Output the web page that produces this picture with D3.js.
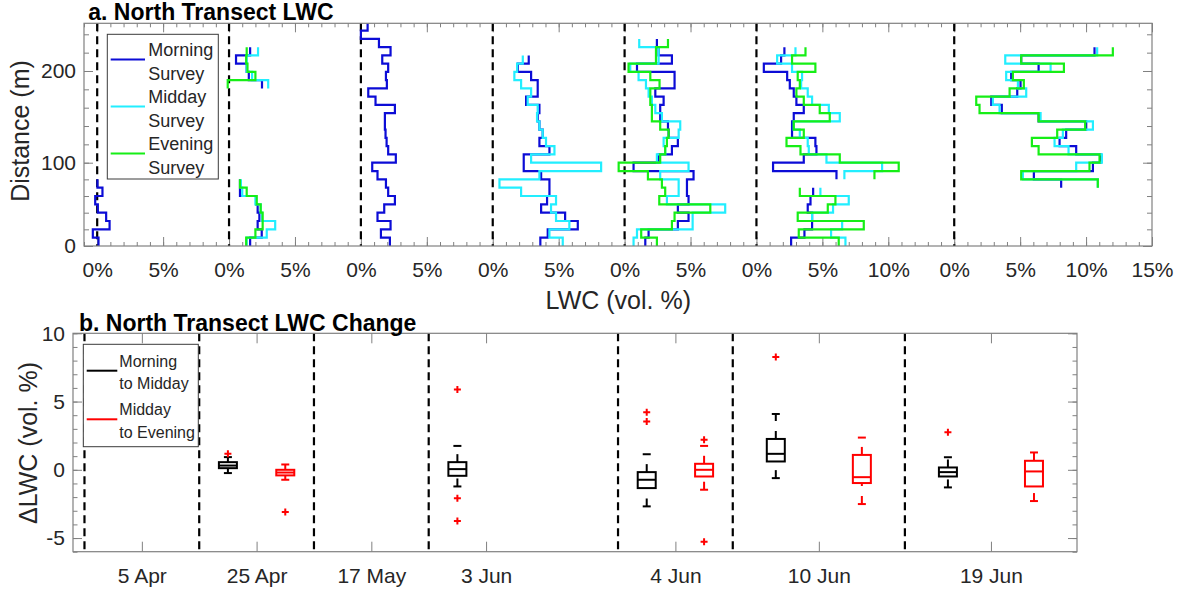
<!DOCTYPE html>
<html>
<head>
<meta charset="utf-8">
<script src="https://cdn.jsdelivr.net/npm/d3@7"></script>
<style>
  body { margin: 0; background: #fff; }
  svg { font-family: "Liberation Sans", Arial, Helvetica, sans-serif; }
</style>
</head>
<body>
<svg id="chart"></svg>
<script>
// ---------- data ----------
var surveyDates = ['5 Apr', '25 Apr', '17 May', '3 Jun', '4 Jun', '10 Jun', '19 Jun'];
var surveyNames = ['Morning', 'Midday', 'Evening'];

// panel a: every date gets its own 0% line on one shared x axis
var dateOffsets = [0, 10, 20, 30, 40, 50, 65];
var lwcTicks = [0, 5, 10, 15, 20, 25, 30, 35, 40, 45, 50, 55, 60, 65, 70, 75, 80];
var lwcTickLabels = ['0%', '5%', '0%', '5%', '0%', '5%', '0%', '5%', '0%', '5%', '0%', '5%', '10%', '0%', '5%', '10%', '15%'];
var distTicks = [0, 20, 40, 60, 80, 100, 120, 140, 160, 180, 200, 220, 240];

// distance bins (m), values below are LWC (vol. %) for each bin, bottom to top
var binEdges = [0, 10, 20, 30, 40, 50, 60, 70, 80, 90, 100, 109, 118, 127, 136, 145, 154, 163, 172, 181, 190, 199, 208, 217, 226, 235, 244, 253];
var N = null;

var morningLWC = [
  [0.10, -0.33, 0.94, 0.68, 0.05, -0.15, 0.40, 0.02, N,
   N, N, N, N, N, N, N, N, N,
   N, N, N, N, N, N, N, N, N],
  [1.60, 2.48, 2.17, 2.30, 2.17, 2.05, 0.83, 0.83, N,
   N, N, N, N, N, N, N, N, N,
   N, 2.50, 1.50, 1.34, 0.53, 1.60, N, N, N],
  [2.20, 1.52, 2.25, 1.26, 1.77, 2.58, 2.07, 1.90, 1.26,
   0.86, 2.65, 2.07, 1.95, 1.87, 1.82, 1.82, 2.58, 1.11,
   0.56, 1.97, 1.90, 2.07, 1.62, 2.25, 1.37, 0.00, 0.51],
  [3.61, 4.17, 6.45, 5.49, 3.67, 4.12, 4.30, 4.30, 3.67,
   2.35, 2.35, 4.30, 3.54, 3.79, 3.54, 3.41, 3.54, 2.53,
   3.41, 3.41, 2.91, 1.90, 2.73, N, N, N, N],
  [1.57, 1.82, 4.04, 4.85, 4.04, 4.85, 4.73, 4.73, 5.23,
   0.68, 2.58, 3.59, 4.04, 3.34, 3.29, 2.70, 2.70, 2.96,
   2.33, 3.79, 3.79, 0.94, 3.59, 2.58, 2.45, N, N],
  [2.63, 3.64, 4.22, 4.22, 3.89, 4.10, 4.30, N, 6.07,
   1.26, 3.59, 4.55, 4.47, 2.70, 2.70, 2.83, 3.59, 3.03,
   2.83, 2.53, 2.33, 0.56, 1.87, 2.12, N, N, N],
  [N, N, N, N, N, N, N, 8.11, 6.04,
   10.52, 11.10, 9.25, 7.99, 8.49, 10.01, 6.40, 3.61, 2.81,
   4.78, 5.03, 4.32, 6.40, 5.08, 10.64, N, N, N]
];

var middayLWC = [
  null,
  [1.34, 2.86, 3.50, 2.50, 2.40, 2.00, 1.00, 0.90, N,
   N, N, N, N, N, N, N, N, N,
   N, 2.97, 1.75, 1.34, 1.34, 2.20, N, N, N],
  null,
  [5.31, 4.30, 5.81, 4.80, 4.42, 4.80, 2.15, 0.51, 3.54,
   8.22, 2.91, 4.68, 4.04, 3.79, 3.54, 3.36, 3.41, 2.65,
   2.91, 2.15, 1.64, 1.85, 2.28, N, N, N, N],
  [0.68, 0.94, 5.16, 5.16, 7.63, 3.21, 4.10, 4.10, 2.70,
   4.85, 2.45, 3.08, 2.96, 4.10, 4.22, 2.83, 2.33, 2.07,
   1.82, 1.62, 1.06, 0.43, 2.58, 2.58, 1.11, N, N],
  [6.75, 5.66, 6.50, 4.22, 5.81, 7.00, 4.85, N, 6.67,
   9.53, 5.31, 3.97, 3.89, 3.29, 2.83, 6.32, 5.49, 4.22,
   3.89, 3.39, 3.46, 2.70, 1.57, 2.96, N, N, N],
  [N, N, N, N, N, N, N, 10.89, 5.21,
   9.25, 11.20, 8.67, 7.61, 8.24, 10.52, 6.55, 3.44, 2.93,
   5.46, 4.83, 3.94, 7.31, 3.87, 10.84, N, N, N]
];

var eveningLWC = [
  null,
  [1.30, 2.00, 2.55, 2.55, 2.40, 2.10, 1.34, 0.83, N,
   N, N, N, N, N, N, N, N, N,
   N, -0.10, 2.00, 1.40, 1.30, 1.34, N, N, N],
  null,
  null,
  [2.45, 1.26, 3.59, 3.79, 6.50, 2.63, 3.08, 2.83, 1.77,
   -0.45, 2.70, 3.08, 3.21, 3.34, 2.70, 2.07, 2.07, 1.95,
   1.95, 2.65, 1.95, 0.30, 2.38, 2.38, 3.29, N, N],
  [6.24, 3.21, 8.14, 3.13, 5.41, 5.99, 3.29, N, 8.95,
   10.79, 6.32, 3.34, 2.28, 3.59, 2.83, 5.56, 4.80, 3.59,
   3.03, 3.29, 3.13, 4.47, 2.70, 3.72, N, N, N],
  [N, N, N, N, N, N, N, 10.89, 5.08,
   10.26, 11.02, 6.40, 5.89, 7.81, 9.93, 6.40, 1.92, 1.67,
   4.20, 5.28, 4.45, 8.32, 5.08, 12.03, N, N, N]
];

// panel b: positions on the date axis
var changeTicks = [2.4, 6.4, 10.4, 14.4, 21, 26, 32];
var changeDividers = [0.4, 4.4, 8.4, 12.4, 19, 23, 29];
var changeYTicks = [-6, -5, -4, -3, -2, -1, 0, 1, 2, 3, 4, 5, 6, 7, 8, 9, 10];

// morning -> midday boxes (25 Apr, 3 Jun, 4 Jun, 10 Jun, 19 Jun)
var m2mPos = [5.4, 13.4, 20, 24.5, 30.5];
var m2mLow = [-0.24, -1.22, -2.68, -0.61, -1.29];
var m2mQ1 = [0.12, -0.44, -1.34, 0.61, -0.49];
var m2mMed = [0.31, 0.05, -0.73, 1.17, -0.17];
var m2mQ3 = [0.56, 0.56, -0.17, 2.26, 0.17];
var m2mHigh = [0.93, 1.75, 1.14, 4.09, 0.92];
var m2mOut = [[1.17], [5.89, -2.09, -3.75], [4.21, 3.53], [8.27], [2.75]];

// midday -> evening boxes (25 Apr, 4 Jun, 10 Jun, 19 Jun)
var m2ePos = [7.4, 22, 27.5, 33.5];
var m2eLow = [-0.73, -1.46, -2.51, -2.29];
var m2eQ1 = [-0.41, -0.49, -0.97, -1.22];
var m2eMed = [-0.20, 0.00, -0.54, -0.12];
var m2eQ3 = [0.00, 0.44, 1.09, 0.66];
var m2eHigh = [0.39, 1.75, 2.36, 1.27];
var m2eOut = [[-3.09], [2.20, -5.28], [], []];

// ---------- drawing ----------
var axisColor = '#808080';
var textColor = '#262626';
var surveyColors = ['#0c0cd6', '#22eeff', '#16ee16'];

var svg = d3.select('#chart').attr('width', 1182).attr('height', 596);

var boxA = {left: 84, right: 1152, top: 23.3, bottom: 246};
var boxB = {left: 73, right: 1077, top: 333.3, bottom: 551.7};

var xA = d3.scaleLinear().domain([-1, 80]).range([boxA.left, boxA.right]);
var yA = d3.scaleLinear().domain([0, 100, 252]).range([boxA.bottom, 162.7, boxA.top]);
var xB = d3.scaleLinear().domain([0, 35]).range([boxB.left, boxB.right]);
var yB = d3.scaleLinear().domain([-6, 10]).range([boxB.bottom, boxB.top]);

function addAxis(axis, tx, ty, size) {
  var g = svg.append('g')
    .attr('transform', 'translate(' + tx + ',' + ty + ')')
    .call(axis);
  g.select('.domain').remove();
  g.attr('font-family', null).attr('font-size', size || 21);
  g.selectAll('.tick line').attr('stroke', axisColor);
  g.selectAll('.tick text').attr('fill', textColor);
  return g;
}

function drawBox(b) {
  svg.append('rect')
    .attr('x', b.left).attr('y', b.top)
    .attr('width', b.right - b.left).attr('height', b.bottom - b.top)
    .attr('fill', 'none').attr('stroke', axisColor).attr('stroke-width', 1.2);
}

// ----- panel a -----
var minorLWC = d3.range(-1, 81);
addAxis(d3.axisBottom(xA).tickValues(minorLWC).tickFormat('').tickSize(-4), 0, boxA.bottom);
addAxis(d3.axisTop(xA).tickValues(minorLWC).tickFormat('').tickSize(-4), 0, boxA.top);
addAxis(d3.axisBottom(xA).tickValues(lwcTicks).tickFormat(function(d, i) { return lwcTickLabels[i]; })
  .tickSize(-9).tickPadding(16), 0, boxA.bottom);
addAxis(d3.axisTop(xA).tickValues(lwcTicks).tickFormat('').tickSize(-9), 0, boxA.top);

addAxis(d3.axisLeft(yA).tickValues(distTicks).tickFormat('').tickSize(-5), boxA.left, 0);
addAxis(d3.axisRight(yA).tickValues(distTicks).tickFormat('').tickSize(-5), boxA.right, 0);
addAxis(d3.axisLeft(yA).tickValues([0, 100, 200]).tickSize(-9).tickPadding(8), boxA.left, 0);
addAxis(d3.axisRight(yA).tickValues([0, 100, 200]).tickFormat('').tickSize(-9), boxA.right, 0);

svg.append('clipPath').attr('id', 'clipA').append('rect')
  .attr('x', boxA.left).attr('y', boxA.top)
  .attr('width', boxA.right - boxA.left).attr('height', boxA.bottom - boxA.top);

// dashed 0% line for each date
svg.append('g').selectAll('line')
  .data(dateOffsets)
  .enter()
  .append('line')
  .attr('x1', d => xA(d)).attr('x2', d => xA(d))
  .attr('y1', boxA.top).attr('y2', boxA.bottom)
  .attr('stroke', '#000').attr('stroke-width', 2.2)
  .attr('stroke-dasharray', '8,5');

function stairPoints(values, offset) {
  var pts = [];
  values.forEach(function(v, i) {
    if (v === null) { pts.push(null); return; }
    pts.push([offset + v, binEdges[i]]);
    pts.push([offset + v, binEdges[i + 1]]);
  });
  return pts;
}

var stairLine = d3.line()
  .defined(d => d !== null)
  .x(d => xA(d[0]))
  .y(d => yA(d[1]));

var profiles = svg.append('g').attr('clip-path', 'url(#clipA)');
[morningLWC, middayLWC, eveningLWC].forEach(function(series, s) {
  series.forEach(function(values, i) {
    if (!values) return;
    profiles.append('path')
      .attr('d', stairLine(stairPoints(values, dateOffsets[i])))
      .attr('fill', 'none')
      .attr('stroke', surveyColors[s])
      .attr('stroke-width', 2.2);
  });
});

drawBox(boxA);

// legend a
var legA = svg.append('g');
legA.append('rect')
  .attr('x', 107.3).attr('y', 34.3).attr('width', 111).attr('height', 144.7)
  .attr('fill', '#fff').attr('stroke', '#3a3a3a').attr('stroke-width', 1);
surveyNames.forEach(function(name, i) {
  var cy = 59.5 + i * 47;
  legA.append('line')
    .attr('x1', 110.7).attr('x2', 145).attr('y1', cy).attr('y2', cy)
    .attr('stroke', surveyColors[i]).attr('stroke-width', 2.2);
  legA.append('text').attr('x', 148.3).attr('y', cy - 3.5)
    .attr('font-size', 18).attr('fill', textColor).text(name);
  legA.append('text').attr('x', 148.3).attr('y', cy + 20)
    .attr('font-size', 18).attr('fill', textColor).text('Survey');
});

svg.append('text').attr('x', 88.3).attr('y', 20)
  .attr('font-size', 23).attr('font-weight', 'bold').attr('fill', '#000')
  .text('a. North Transect LWC');

svg.append('text')
  .attr('transform', 'translate(29,131) rotate(-90)')
  .attr('text-anchor', 'middle').attr('font-size', 25).attr('fill', textColor)
  .text('Distance (m)');

svg.append('text').attr('x', 618.3).attr('y', 309)
  .attr('text-anchor', 'middle').attr('font-size', 25).attr('fill', textColor)
  .text('LWC (vol. %)');

// ----- panel b -----
addAxis(d3.axisBottom(xB).tickValues(changeTicks).tickFormat(function(d, i) { return surveyDates[i]; })
  .tickSize(-10).tickPadding(16), 0, boxB.bottom);
addAxis(d3.axisTop(xB).tickValues(changeTicks).tickFormat('').tickSize(-10), 0, boxB.top);
addAxis(d3.axisLeft(yB).tickValues(changeYTicks).tickFormat('').tickSize(-4.5), boxB.left, 0);
addAxis(d3.axisRight(yB).tickValues(changeYTicks).tickFormat('').tickSize(-4.5), boxB.right, 0);
addAxis(d3.axisLeft(yB).tickValues([-5, 0, 5, 10]).tickFormat(d => String(d))
  .tickSize(-9).tickPadding(8), boxB.left, 0);
addAxis(d3.axisRight(yB).tickValues([-5, 0, 5, 10]).tickFormat('').tickSize(-9), boxB.right, 0);

svg.append('g').selectAll('line')
  .data(changeDividers)
  .enter()
  .append('line')
  .attr('x1', d => xB(d)).attr('x2', d => xB(d))
  .attr('y1', boxB.top).attr('y2', boxB.bottom)
  .attr('stroke', '#000').attr('stroke-width', 2.2)
  .attr('stroke-dasharray', '8,5');

function drawBoxes(pos, low, q1, med, q3, high, outliers, color) {
  var g = svg.append('g')
    .attr('stroke', color).attr('stroke-width', 2).attr('fill', 'none');
  var halfBox = 9, halfCap = 4;
  pos.forEach(function(p, i) {
    var cx = xB(p);
    // whiskers are dashed, drawn from the lower value upward
    g.append('line').attr('x1', cx).attr('x2', cx)
      .attr('y1', yB(q3[i])).attr('y2', yB(high[i])).attr('stroke-dasharray', '8,10');
    g.append('line').attr('x1', cx).attr('x2', cx)
      .attr('y1', yB(low[i])).attr('y2', yB(q1[i])).attr('stroke-dasharray', '8,10');
    g.append('line').attr('x1', cx - halfCap).attr('x2', cx + halfCap)
      .attr('y1', yB(high[i])).attr('y2', yB(high[i]));
    g.append('line').attr('x1', cx - halfCap).attr('x2', cx + halfCap)
      .attr('y1', yB(low[i])).attr('y2', yB(low[i]));
    g.append('rect')
      .attr('x', cx - halfBox).attr('y', yB(q3[i]))
      .attr('width', halfBox * 2).attr('height', yB(q1[i]) - yB(q3[i]));
    g.append('line').attr('x1', cx - halfBox).attr('x2', cx + halfBox)
      .attr('y1', yB(med[i])).attr('y2', yB(med[i]));
    outliers[i].forEach(function(v) {
      var oy = yB(v);
      svg.append('path')
        .attr('d', 'M' + (cx - 3.5) + ',' + oy + 'H' + (cx + 3.5) + 'M' + cx + ',' + (oy - 3.5) + 'V' + (oy + 3.5))
        .attr('stroke', '#ff0000').attr('stroke-width', 2);
    });
  });
}

drawBoxes(m2mPos, m2mLow, m2mQ1, m2mMed, m2mQ3, m2mHigh, m2mOut, '#000');
drawBoxes(m2ePos, m2eLow, m2eQ1, m2eMed, m2eQ3, m2eHigh, m2eOut, '#ff0000');

drawBox(boxB);

// legend b
var changeNames = [['Morning', 'to Midday'], ['Midday', 'to Evening']];
var changeColors = ['#000', '#ff0000'];
var legB = svg.append('g');
legB.append('rect')
  .attr('x', 83.3).attr('y', 344.3).attr('width', 115).attr('height', 102.4)
  .attr('fill', '#fff').attr('stroke', '#3a3a3a').attr('stroke-width', 1);
changeNames.forEach(function(lines, i) {
  var cy = 370.7 + i * 48.6;
  legB.append('line')
    .attr('x1', 86.7).attr('x2', 117.3).attr('y1', cy).attr('y2', cy)
    .attr('stroke', changeColors[i]).attr('stroke-width', 2);
  legB.append('text').attr('x', 119.3).attr('y', cy - 4)
    .attr('font-size', 16).attr('fill', textColor).text(lines[0]);
  legB.append('text').attr('x', 119.3).attr('y', cy + 18.5)
    .attr('font-size', 16).attr('fill', textColor).text(lines[1]);
});

svg.append('text').attr('x', 79).attr('y', 331)
  .attr('font-size', 23).attr('font-weight', 'bold').attr('fill', '#000')
  .text('b. North Transect LWC Change');

svg.append('text')
  .attr('transform', 'translate(36.5,443) rotate(-90)')
  .attr('text-anchor', 'middle').attr('font-size', 25).attr('fill', textColor)
  .text('\u0394LWC (vol. %)');
</script>
</body>
</html>
